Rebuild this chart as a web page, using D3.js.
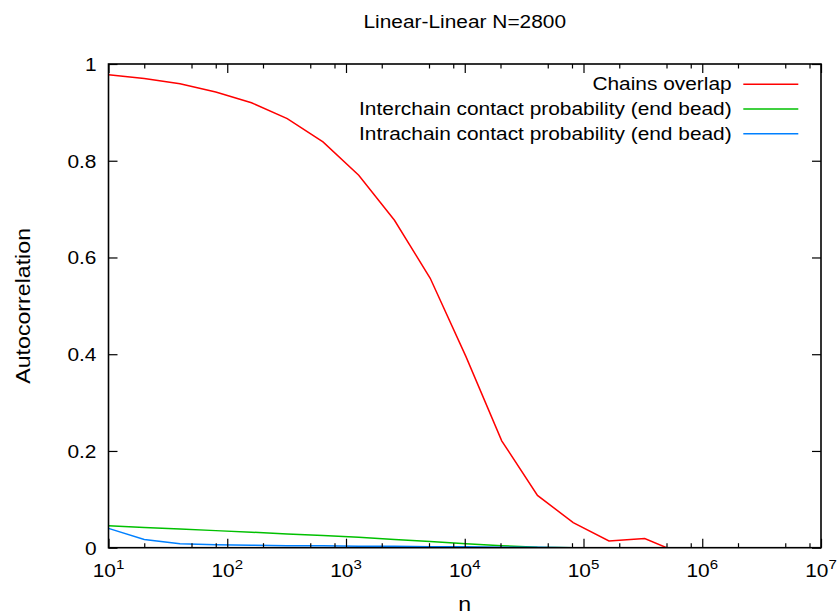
<!DOCTYPE html>
<html>
<head>
<meta charset="utf-8">
<script src="https://cdn.jsdelivr.net/npm/d3@7"></script>
<style>
  body { margin: 0; background: #fff; }
  text { font-family: "Liberation Sans", Arial, sans-serif; fill: #000; }
</style>
</head>
<body>
<div id="chart"></div>
<script>
const width = 838;
const height = 614;
const margin = { top: 64, right: 17, bottom: 66.3, left: 108.5 };
const fontSize = 18.5;
const labelSize = 20.5; // axis titles are a little bigger
const stretch = 1.13; // glyphs in the original are wider than Liberation Sans

// Data
const nValues = [10, 20, 40, 80, 160, 320, 640, 1280, 2560, 5120, 10240, 20480, 40960, 81920, 163840, 327680, 655360];
const chainsOverlap = [0.978, 0.970, 0.959, 0.942, 0.920, 0.887, 0.839, 0.770, 0.677, 0.557, 0.395, 0.221, 0.108, 0.052, 0.014, 0.019, -0.012];
const interchain = [0.0455, 0.042, 0.0387, 0.0353, 0.032, 0.0284, 0.025, 0.0215, 0.017, 0.013, 0.008, 0.004, 0.001, 0, 0, 0, 0];
const intrachain = [0.040, 0.017, 0.008, 0.006, 0.005, 0.004, 0.004, 0.003, 0.003, 0.002, 0.002, 0.001, 0.001, 0, 0, 0, 0];

const seriesNames = ['Chains overlap', 'Interchain contact probability (end bead)', 'Intrachain contact probability (end bead)'];
const seriesColors = ['#ff0000', '#00c000', '#0080ff'];
const seriesValues = [chainsOverlap, interchain, intrachain];

const xMajorTicks = [1e1, 1e2, 1e3, 1e4, 1e5, 1e6, 1e7];
const xMinorTicks = [20, 50, 80, 200, 500, 800, 2e3, 5e3, 8e3, 2e4, 5e4, 8e4, 2e5, 5e5, 8e5, 2e6, 5e6, 8e6];
const yTicks = [0, 0.2, 0.4, 0.6, 0.8, 1];

const title = 'Linear-Linear N=2800';
const xLabel = 'n';
const yLabel = 'Autocorrelation';

const x = d3.scaleLog()
  .domain([10, 1e7])
  .range([margin.left, width - margin.right]);
const y = d3.scaleLinear()
  .domain([0, 1])
  .range([height - margin.bottom, margin.top]);

const svg = d3.select('#chart')
  .append('svg')
    .attr('width', width)
    .attr('height', height);

// helper: place a text with a horizontal stretch
function label(g, tx, ty, str, anchor, size, extra) {
  return g.append('text')
    .attr('transform', `translate(${tx},${ty}) ${extra || ''} scale(${stretch},1)`)
    .attr('text-anchor', anchor)
    .style('font-size', size + 'px')
    .text(str);
}

// lines, clipped to plot area
svg.append('clipPath')
    .attr('id', 'clip')
  .append('rect')
    .attr('x', margin.left)
    .attr('y', margin.top)
    .attr('width', width - margin.left - margin.right)
    .attr('height', height - margin.top - margin.bottom);

const line = d3.line()
  .x(d => x(d[0]))
  .y(d => y(d[1]));

svg.append('g')
    .attr('clip-path', 'url(#clip)')
  .selectAll('path')
  .data(seriesValues)
  .join('path')
    .attr('fill', 'none')
    .attr('stroke', (d, i) => seriesColors[i])
    .attr('stroke-width', 1.5)
    .attr('d', d => line(d.map((v, i) => [nValues[i], v])));

// axes (ticks point inward on all four sides)
function styleAxis(g) {
  g.select('.domain').remove();
  g.selectAll('.tick line').attr('stroke', '#000').attr('stroke-width', 1.2);
}
const bottomY = height - margin.bottom;
const rightX = width - margin.right;

svg.append('g').attr('transform', `translate(0,${bottomY})`)
  .call(d3.axisBottom(x).tickValues(xMajorTicks).tickSize(-9).tickFormat(''))
  .call(styleAxis);
svg.append('g').attr('transform', `translate(0,${bottomY})`)
  .call(d3.axisBottom(x).tickValues(xMinorTicks).tickSize(-4.5).tickFormat(''))
  .call(styleAxis);
svg.append('g').attr('transform', `translate(0,${margin.top})`)
  .call(d3.axisTop(x).tickValues(xMajorTicks).tickSize(-9).tickFormat(''))
  .call(styleAxis);
svg.append('g').attr('transform', `translate(0,${margin.top})`)
  .call(d3.axisTop(x).tickValues(xMinorTicks).tickSize(-4.5).tickFormat(''))
  .call(styleAxis);
svg.append('g').attr('transform', `translate(${margin.left},0)`)
  .call(d3.axisLeft(y).tickValues(yTicks).tickSize(-9).tickPadding(12).tickFormat(d3.format('~g')))
  .call(styleAxis)
  .call(g => g.selectAll('.tick text')
    .attr('x', null)
    .attr('dy', null)
    .attr('transform', `translate(-12,6.5) scale(${stretch},1)`)
    .style('font-size', fontSize + 'px')
    .attr('font-family', null));
svg.append('g').attr('transform', `translate(${rightX},0)`)
  .call(d3.axisRight(y).tickValues(yTicks).tickSize(-9).tickFormat(''))
  .call(styleAxis);

// x tick labels as 10 with superscript exponent
const xLab = svg.append('g');
xMajorTicks.forEach(v => {
  const t = label(xLab, x(v), 577, '', 'middle', fontSize);
  t.append('tspan').text('10');
  t.append('tspan')
    .attr('dy', -8)
    .style('font-size', (fontSize * 0.72) + 'px')
    .text(Math.round(Math.log10(v)));
});

// frame
svg.append('rect')
  .attr('x', margin.left)
  .attr('y', margin.top)
  .attr('width', rightX - margin.left)
  .attr('height', bottomY - margin.top)
  .attr('fill', 'none')
  .attr('stroke', '#000')
  .attr('stroke-width', 1.6);

// titles
label(svg, (margin.left + rightX) / 2, 28.3, title, 'middle', fontSize);
label(svg, (margin.left + rightX) / 2, 610.5, xLabel, 'middle', labelSize);
label(svg, 30, (margin.top + bottomY) / 2, yLabel, 'middle', labelSize, 'rotate(-90)');

// legend
const legend = svg.append('g');
seriesNames.forEach((name, i) => {
  const cy = 84.3 + i * 24.7;
  label(legend, 731.7, cy + 6, name, 'end', fontSize);
  legend.append('line')
    .attr('x1', 743.3)
    .attr('x2', 798.3)
    .attr('y1', cy)
    .attr('y2', cy)
    .attr('stroke', seriesColors[i])
    .attr('stroke-width', 1.5);
});
</script>
</body>
</html>
